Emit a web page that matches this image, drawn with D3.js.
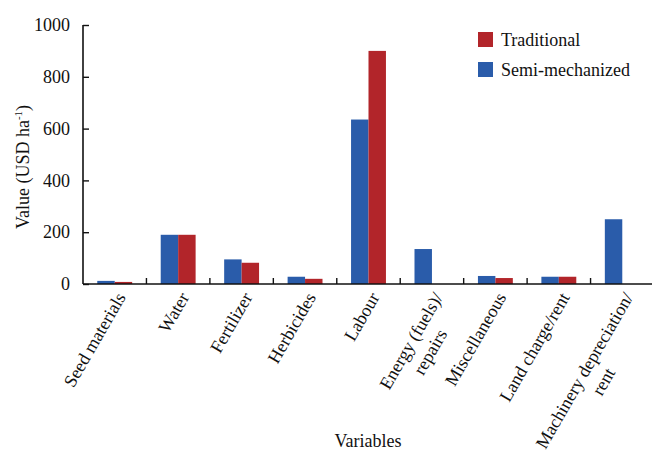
<!DOCTYPE html>
<html>
<head>
<meta charset="utf-8">
<script src="https://cdn.jsdelivr.net/npm/d3@7"></script>
<style>
  html, body { margin: 0; padding: 0; background: #fff; }
  svg { display: block; }
</style>
</head>
<body>
<svg id="chart" width="652" height="456"></svg>
<script>
// Production cost per hectare by variable
const categories = [
  ["Seed materials"],
  ["Water"],
  ["Fertilizer"],
  ["Herbicides"],
  ["Labour"],
  ["Energy (fuels)/", "repairs"],
  ["Miscellaneous"],
  ["Land charge/rent"],
  ["Machinery depreciation/", "rent"]
];
const semiMechanized = [12, 190, 95, 28, 635, 135, 31, 28, 250];
const traditional    = [8, 190, 82, 20, 900, 0, 23, 28, 0];
const yTicks = [0, 200, 400, 600, 800, 1000];
const seriesNames = ["Semi-mechanized", "Traditional"];
const legendOrder = ["Traditional", "Semi-mechanized"];
const colors = { "Semi-mechanized": "#2a5caa", "Traditional": "#b2252a" };

const serif = "Times New Roman";
const svg = d3.select("#chart");
const x0 = 83, x1 = 654, yTop = 25, yBottom = 284;
const fontSize = 18;

// every label shares the same typeface and size
function styleText(sel) {
  return sel.attr("font-family", serif).attr("font-size", fontSize).attr("fill", "#111");
}

const keys = categories.map((c, i) => i);
const x = d3.scaleBand().domain(keys).range([x0, x1])
  .paddingInner(0.45).paddingOuter(0.225);
const xSub = d3.scaleBand().domain(seriesNames).range([0, x.bandwidth()]);
const y = d3.scaleLinear().domain([0, 1000]).range([yBottom, yTop]);

const rows = keys.map(i => ({
  i,
  values: [
    { key: "Semi-mechanized", v: semiMechanized[i] },
    { key: "Traditional", v: traditional[i] }
  ]
}));

// bars
svg.append("g").selectAll("g").data(rows).join("g")
  .attr("transform", d => `translate(${x(d.i)},0)`)
  .selectAll("rect").data(d => d.values.filter(e => e.v > 0)).join("rect")
  .attr("x", e => xSub(e.key))
  .attr("width", xSub.bandwidth())
  .attr("y", e => y(e.v))
  .attr("height", e => y(0) - y(e.v))
  .attr("fill", e => colors[e.key]);

// y axis
const yAxis = svg.append("g").attr("transform", `translate(${x0},0)`)
  .call(d3.axisLeft(y).tickValues(yTicks).tickFormat(d3.format("d"))
    .tickSizeInner(-6).tickSizeOuter(0).tickPadding(13));
yAxis.attr("font-family", serif).attr("font-size", fontSize);
yAxis.select(".domain").attr("stroke", "#111").attr("stroke-width", 1.6)
  .attr("d", `M0,${yBottom}V${yTop}`);
yAxis.selectAll(".tick line").attr("stroke", "#111").attr("stroke-width", 1.4);
styleText(yAxis.selectAll(".tick text"));

// x axis baseline and tick marks between categories
const step = x.step();
const boundaries = d3.range(1, categories.length + 1).map(k => x0 + k * step);
svg.append("line").attr("x1", x0).attr("x2", x1 + 2).attr("y1", yBottom).attr("y2", yBottom)
  .attr("stroke", "#111").attr("stroke-width", 1.6);
svg.append("g").selectAll("line").data(boundaries).join("line")
  .attr("x1", d => d).attr("x2", d => d)
  .attr("y1", yBottom).attr("y2", yBottom - 6)
  .attr("stroke", "#111").attr("stroke-width", 1.4);

// rotated category labels, multi-line names centred on each other
const angle = -60;
const labels = svg.append("g")
  .selectAll("g").data(rows).join("g")
  .attr("transform", d => `translate(${x(d.i) + x.bandwidth() / 2 + 6},${yBottom + 10}) rotate(${angle})`);
labels.each(function(d) {
  const g = d3.select(this);
  const lines = categories[d.i];
  const texts = lines.map((line, k) => styleText(g.append("text"))
    .attr("dy", "0.35em")
    .attr("y", k * 22)
    .text(line));
  const w = d3.max(texts, t => t.node().getComputedTextLength());
  texts.forEach(t => t.attr("text-anchor", "middle").attr("x", -w / 2));
});

// axis titles
styleText(svg.append("text")).attr("x", 368).attr("y", 447).attr("text-anchor", "middle")
  .text("Variables");

const yTitle = styleText(svg.append("text"))
  .attr("transform", `translate(29,167) rotate(-90)`)
  .attr("text-anchor", "middle");
yTitle.append("tspan").text("Value (USD ha");
yTitle.append("tspan").attr("font-size", 11).attr("dy", -7).text("-1");
yTitle.append("tspan").attr("dy", 7).text(")");

// legend
const legend = svg.append("g").attr("transform", "translate(478,32)");
const li = legend.selectAll("g").data(legendOrder).join("g")
  .attr("transform", (d, k) => `translate(0,${k * 30})`);
li.append("rect").attr("width", 15).attr("height", 15).attr("fill", d => colors[d]);
styleText(li.append("text")).attr("x", 23).attr("y", 7.5).attr("dy", "0.35em")
  .text(d => d);
</script>
</body>
</html>
